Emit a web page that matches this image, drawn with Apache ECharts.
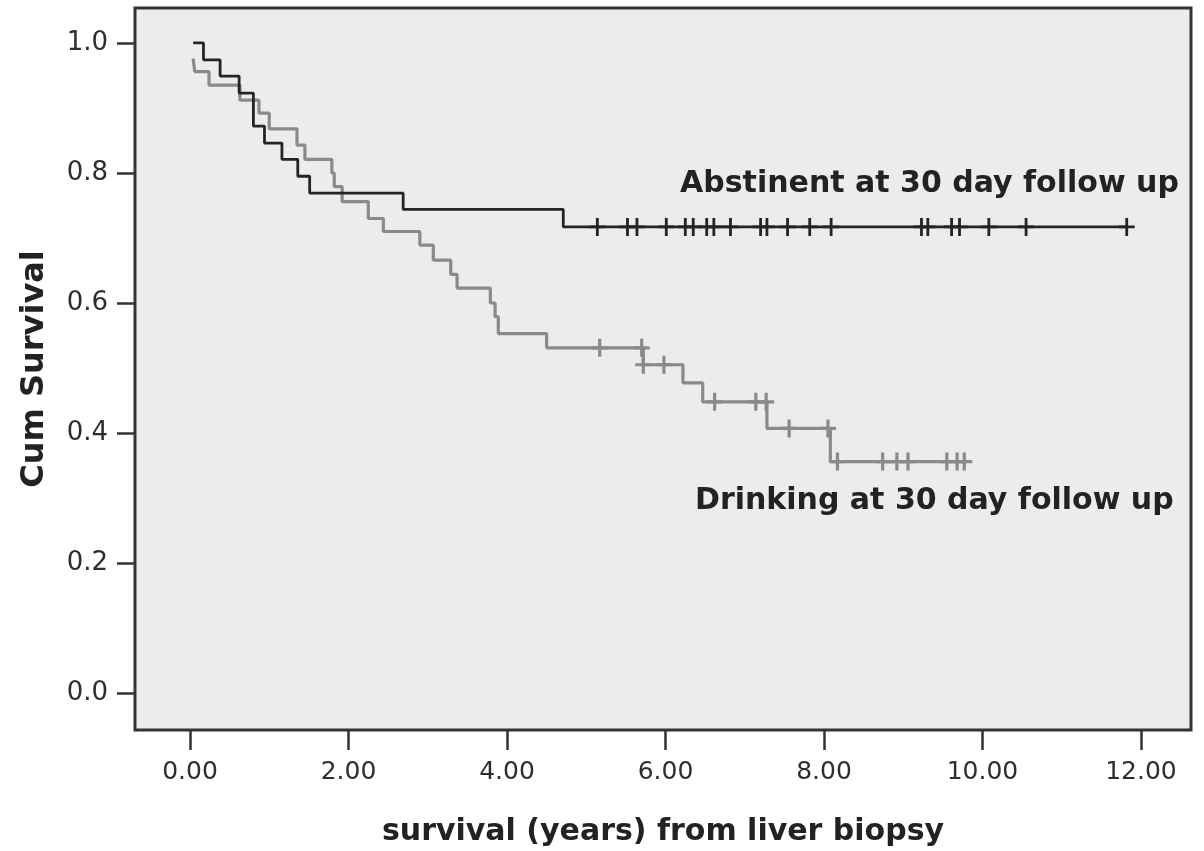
<!DOCTYPE html>
<html>
<head>
<meta charset="utf-8">
<script src="https://cdn.jsdelivr.net/npm/echarts@6/dist/echarts.min.js"></script>
<style>
  html, body { margin: 0; padding: 0; background: #ffffff; }
  #chart { width: 1204px; height: 851px; }
</style>
</head>
<body>
<div id="chart"></div>
<script>
// ---- Data ----
// Abstinent at 30 day follow up (black curve): step start / event times (years) and survival after each step
const abstTimes = [0.04, 0.17, 0.38, 0.62, 0.80, 0.94, 1.16, 1.36, 1.51, 2.69, 4.71];
const abstSurv  = [1.000, 0.974, 0.949, 0.923, 0.872, 0.846, 0.821, 0.795, 0.769, 0.744, 0.717];
const abstCensorTimes = [5.14, 5.52, 5.64, 6.01, 6.25, 6.35, 6.52, 6.61, 6.82, 7.20, 7.28,
                         7.54, 7.82, 8.09, 9.23, 9.31, 9.61, 9.71, 10.08, 10.55, 11.82];

// Drinking at 30 day follow up (grey curve)
const drinkTimes = [0.04, 0.06, 0.24, 0.63, 0.87, 1.00, 1.35, 1.45, 1.79, 1.82, 1.92, 2.25, 2.44,
                    2.90, 3.07, 3.29, 3.37, 3.79, 3.85, 3.89, 4.50, 5.72, 6.22, 6.47, 7.28, 8.08];
const drinkSurv  = [0.976, 0.956, 0.935, 0.912, 0.892, 0.868, 0.843, 0.821, 0.800, 0.779, 0.756, 0.730, 0.710,
                    0.689, 0.666, 0.644, 0.623, 0.600, 0.579, 0.553, 0.531, 0.505, 0.477, 0.448, 0.407, 0.356];
const drinkCensorTimes = [5.17, 5.70, 5.72, 5.98, 6.62, 7.14, 7.27, 7.56, 8.05, 8.17,
                          8.74, 8.92, 9.06, 9.55, 9.68, 9.77];

const yTicks = [0.0, 0.2, 0.4, 0.6, 0.8, 1.0];
const xTicks = [0, 2, 4, 6, 8, 10, 12];

const abstLabel = 'Abstinent at 30 day follow up';
const drinkLabel = 'Drinking at 30 day follow up';
const xTitle = 'survival (years) from liver biopsy';
const yTitle = 'Cum Survival';

// ---- helpers ----
function survAt(times, surv, t) {
  let s = surv[0];
  for (let i = 0; i < times.length; i++) { if (times[i] <= t + 1e-9) s = surv[i]; }
  return s;
}
function stepLine(times, surv, censors) {
  const pts = times.map((t, i) => [t, surv[i]]);
  const last = censors[censors.length - 1];
  if (last > times[times.length - 1]) pts.push([last, surv[surv.length - 1]]);
  return pts;
}
function censorPts(times, surv, censors) {
  return censors.map(t => [t, survAt(times, surv, t)]);
}

const plusBlack = 'path://M6.6,0 H9.4 V7.6 H16 V10.4 H9.4 V18 H6.6 V10.4 H0 V7.6 H6.6 Z';
const plusGrey  = 'path://M6.4,0 H9.6 V7.4 H16 V10.6 H9.6 V18 H6.4 V10.6 H0 V7.4 H6.4 Z';

const BLACK = '#242424';
const GREY = '#89898e';
const FONT = 'DejaVu Sans';

const chart = echarts.init(document.getElementById('chart'), null, { renderer: 'canvas' });
chart.setOption({
  backgroundColor: '#ffffff',
  animation: false,
  grid: {
    left: 135, right: 13, top: 8, bottom: 121,
    show: true, backgroundColor: '#ececec', borderColor: '#333333', borderWidth: 3,
    containLabel: false, outerBoundsMode: 'none'
  },
  xAxis: {
    type: 'value', min: -0.694, max: 12.631, position: 'bottom',
    name: xTitle, nameLocation: 'middle', nameGap: 87,
    nameTextStyle: { fontFamily: FONT, fontWeight: 'bold', fontSize: 30, color: '#222222' },
    axisLine: { show: false, onZero: false },
    axisTick: { show: true, inside: false, length: 20, customValues: xTicks,
                lineStyle: { color: '#333333', width: 2.5 } },
    axisLabel: { show: true, customValues: xTicks, margin: 30,
                 fontFamily: FONT, fontSize: 25, color: '#2e2e2e',
                 formatter: v => Number(v).toFixed(2) },
    splitLine: { show: false }
  },
  yAxis: {
    type: 'value', min: -0.0569, max: 1.0538, position: 'left',
    name: yTitle, nameLocation: 'middle', nameGap: 84,
    nameTextStyle: { fontFamily: FONT, fontWeight: 'bold', fontSize: 32, color: '#222222' },
    axisLine: { show: false, onZero: false },
    axisTick: { show: true, inside: false, length: 18, customValues: yTicks,
                lineStyle: { color: '#333333', width: 2.5 } },
    axisLabel: { show: true, customValues: yTicks, margin: 27,
                 fontFamily: FONT, fontSize: 26, color: '#2e2e2e',
                 formatter: v => Number(v).toFixed(1) },
    splitLine: { show: false }
  },
  series: [
    {
      name: drinkLabel, type: 'line', step: 'end', showSymbol: false, silent: true,
      data: stepLine(drinkTimes, drinkSurv, drinkCensorTimes),
      lineStyle: { color: GREY, width: 3.2 }, z: 2
    },
    {
      name: drinkLabel + ' censored', type: 'scatter', silent: true,
      symbol: plusGrey, symbolSize: [16, 18],
      data: censorPts(drinkTimes, drinkSurv, drinkCensorTimes),
      itemStyle: { color: GREY, opacity: 1 }, z: 3
    },
    {
      name: abstLabel, type: 'line', step: 'end', showSymbol: false, silent: true,
      data: stepLine(abstTimes, abstSurv, abstCensorTimes),
      lineStyle: { color: BLACK, width: 2.8 }, z: 4
    },
    {
      name: abstLabel + ' censored', type: 'scatter', silent: true,
      symbol: plusBlack, symbolSize: [16, 18],
      data: censorPts(abstTimes, abstSurv, abstCensorTimes),
      itemStyle: { color: BLACK, opacity: 1 }, z: 5
    }
  ],
  graphic: [
    { type: 'text', left: 680, top: 169, z: 10,
      style: { text: abstLabel, fontFamily: FONT, fontWeight: 'bold', fontSize: 30, fill: '#222222' } },
    { type: 'text', left: 695, top: 486, z: 10,
      style: { text: drinkLabel, fontFamily: FONT, fontWeight: 'bold', fontSize: 30, fill: '#222222' } }
  ]
});
</script>
</body>
</html>
